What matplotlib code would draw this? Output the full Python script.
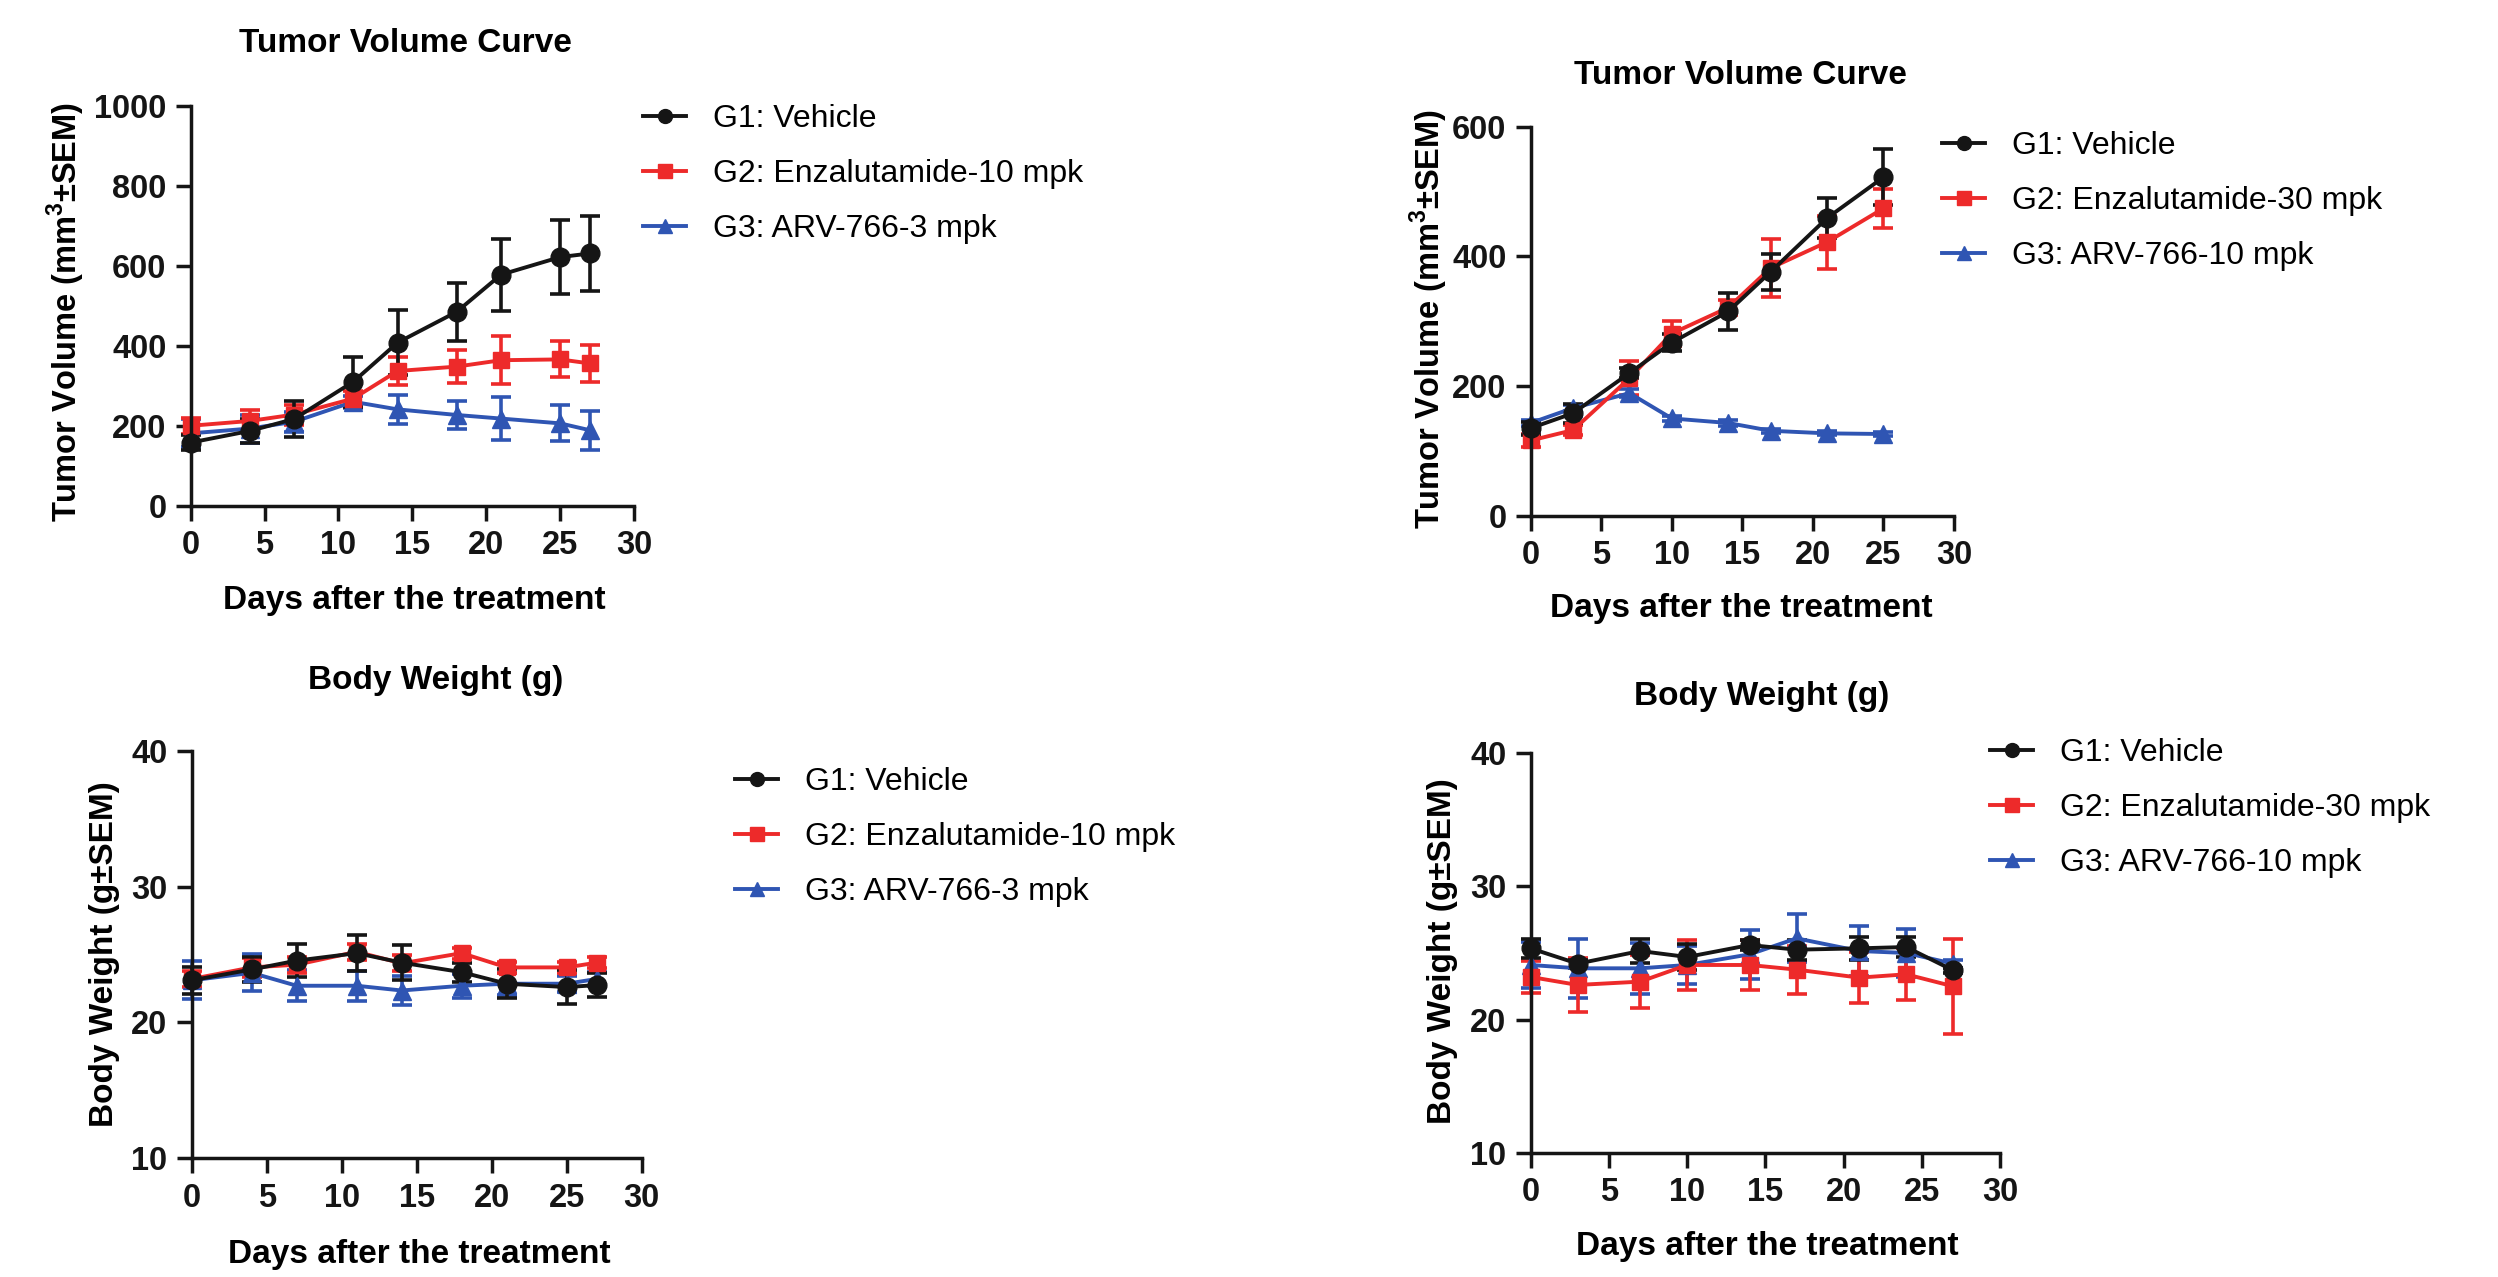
import matplotlib
matplotlib.use('Agg')
import matplotlib.pyplot as plt
from matplotlib.lines import Line2D

# figure size in pixels (dpi 100)
W, H = 2498, 1277

plt.rcParams['font.family'] = ['Liberation Sans', 'DejaVu Sans']
plt.rcParams['mathtext.fontset'] = 'custom'
plt.rcParams['mathtext.bf'] = 'Liberation Sans:bold'
plt.rcParams['mathtext.rm'] = 'Liberation Sans'

BLACK = '#151515'
RED = '#ED2A2A'
BLUE = '#2F55B3'

# ---- tumor volume, 10 mpk study (top left)
days_tv1 = [0, 4, 7, 11, 14, 18, 21, 25, 27]
tv1_g1 = [158, 187, 217, 310, 408, 485, 578, 622, 631]
tv1_g1_sem = [18, 30, 44, 62, 81, 72, 90, 93, 93]
tv1_g2 = [200, 212, 228, 268, 337, 348, 364, 366, 356]
tv1_g2_sem = [20, 28, 25, 20, 35, 42, 60, 45, 46]
tv1_g3 = [181, 193, 210, 260, 241, 227, 218, 206, 189]
tv1_g3_sem = [35, 35, 25, 15, 36, 35, 54, 45, 49]

# ---- tumor volume, 30 mpk study (top right)
days_tv2 = [0, 3, 7, 10, 14, 17, 21, 25]
tv2_g1 = [135, 158, 220, 267, 315, 376, 459, 522]
tv2_g1_sem = [10, 15, 8, 13, 28, 28, 31, 43]
tv2_g2 = [116, 132, 212, 281, 321, 382, 422, 474]
tv2_g2_sem = [10, 8, 26, 19, 12, 45, 41, 30]
tv2_g3 = [143, 166, 189, 150, 143, 131, 127, 126]
tv2_g3_sem = [5, 5, 6, 4, 4, 3, 3, 3]

# ---- body weight, 10 mpk study (bottom left)
days_bw1 = [0, 4, 7, 11, 14, 18, 21, 25, 27]
bw1_g1 = [23.1, 23.9, 24.55, 25.1, 24.4, 23.7, 22.85, 22.6, 22.75]
bw1_g1_sem = [1.0, 0.9, 1.2, 1.35, 1.3, 0.7, 1.05, 1.25, 0.9]
bw1_g2 = [23.2, 24.05, 24.25, 25.2, 24.35, 25.1, 24.05, 24.05, 24.4]
bw1_g2_sem = [0.6, 0.7, 0.6, 0.6, 0.6, 0.4, 0.4, 0.4, 0.4]
bw1_g3 = [23.1, 23.65, 22.7, 22.7, 22.35, 22.7, 22.85, 22.85, 23.2]
bw1_g3_sem = [1.4, 1.35, 1.15, 1.1, 1.1, 0.9, 0.8, 0.6, 0.5]

# ---- body weight, 30 mpk study (bottom right)
days_bw2 = [0, 3, 7, 10, 14, 17, 21, 24, 27]
bw2_g1 = [25.35, 24.2, 25.15, 24.7, 25.6, 25.25, 25.35, 25.45, 23.7]
bw2_g1_sem = [0.7, 0.3, 0.9, 1.0, 0.4, 0.75, 0.88, 0.78, 0.2]
bw2_g2 = [23.2, 22.6, 22.85, 24.1, 24.1, 23.75, 23.15, 23.4, 22.5]
bw2_g2_sem = [1.2, 2.0, 2.0, 1.9, 1.85, 1.8, 1.9, 1.95, 3.55]
bw2_g3 = [24.1, 23.85, 23.85, 24.1, 24.9, 26.1, 25.15, 25.0, 24.2]
bw2_g3_sem = [1.75, 2.2, 1.9, 1.4, 1.85, 1.8, 1.85, 1.8, 0.3]

labels_10 = ['G1: Vehicle', 'G2: Enzalutamide-10 mpk', 'G3: ARV-766-3 mpk']
labels_30 = ['G1: Vehicle', 'G2: Enzalutamide-30 mpk', 'G3: ARV-766-10 mpk']

TICK_FS = 23.5
LAB_FS = 24
LEG_FS = 23
TV_LABEL = r'Tumor Volume (mm$^{\mathbf{3}}$±SEM)'


def px_axes(fig, left, top, right, bottom):
    # axes rectangle given in pixel coords (origin top left)
    return fig.add_axes([left / W, 1 - bottom / H, (right - left) / W, (bottom - top) / H])


def ftext(fig, x, y, s, **kw):
    fig.text(x / W, 1 - y / H, s, ha='center', va='center', **kw)


def draw_panel(fig, ax, days, groups, sems, yticks):
    styles = [(BLUE, '^', 13), (RED, 's', 12), (BLACK, 'o', 13.5)]
    for (col, mk, ms), vals, err in zip(styles, groups[::-1], sems[::-1]):
        ax.errorbar(days, vals, yerr=err, color=col, marker=mk, markersize=ms,
                    lw=2.8, elinewidth=2.6, capsize=7.5, capthick=2.6, clip_on=False)
    ax.set_xlim(0, 30)
    ax.set_ylim(yticks[0], yticks[-1])
    ax.set_xticks(range(0, 31, 5))
    ax.set_yticks(yticks)
    for s in ['top', 'right']:
        ax.spines[s].set_visible(False)
    for s in ['left', 'bottom']:
        ax.spines[s].set_linewidth(2.5)
        ax.spines[s].set_color(BLACK)
    ax.tick_params(direction='out', length=10.5, width=2.5, colors=BLACK,
                   labelsize=TICK_FS, pad=7)
    for t in ax.get_xticklabels() + ax.get_yticklabels():
        t.set_fontweight('bold')


def add_legend(fig, ax, labels, x, y):
    handles = [Line2D([], [], color=BLACK, marker='o', markersize=10, lw=2.8),
               Line2D([], [], color=RED, marker='s', markersize=9.5, lw=2.8),
               Line2D([], [], color=BLUE, marker='^', markersize=10, lw=2.8)]
    ax.legend(handles, labels, loc='upper left', bbox_to_anchor=(x / W, 1 - y / H),
              bbox_transform=fig.transFigure, frameon=False, fontsize=LEG_FS,
              handlelength=1.35, handletextpad=0.85, labelspacing=0.78,
              borderpad=0, borderaxespad=0)


fig = plt.figure(figsize=(W / 100, H / 100), dpi=100)

# top left
ax1 = px_axes(fig, 190.7, 106, 634, 505.7)
draw_panel(fig, ax1, days_tv1, [tv1_g1, tv1_g2, tv1_g3],
           [tv1_g1_sem, tv1_g2_sem, tv1_g3_sem], [0, 200, 400, 600, 800, 1000])
add_legend(fig, ax1, labels_10, 643, 104)
ftext(fig, 405, 43, 'Tumor Volume Curve', fontsize=LAB_FS, fontweight='bold')
ftext(fig, 414, 600, 'Days after the treatment', fontsize=LAB_FS, fontweight='bold')
ftext(fig, 66, 312, TV_LABEL, fontsize=LAB_FS - 0.5, fontweight='bold', rotation=90)

# top right
ax2 = px_axes(fig, 1530.7, 126.7, 1954, 515.7)
draw_panel(fig, ax2, days_tv2, [tv2_g1, tv2_g2, tv2_g3],
           [tv2_g1_sem, tv2_g2_sem, tv2_g3_sem], [0, 200, 400, 600])
add_legend(fig, ax2, labels_30, 1942, 131)
ftext(fig, 1740, 75, 'Tumor Volume Curve', fontsize=LAB_FS, fontweight='bold')
ftext(fig, 1741, 608, 'Days after the treatment', fontsize=LAB_FS, fontweight='bold')
ftext(fig, 1429, 319, TV_LABEL, fontsize=LAB_FS - 0.5, fontweight='bold', rotation=90)

# bottom left
ax3 = px_axes(fig, 191.7, 750.7, 641.7, 1158.3)
draw_panel(fig, ax3, days_bw1, [bw1_g1, bw1_g2, bw1_g3],
           [bw1_g1_sem, bw1_g2_sem, bw1_g3_sem], [10, 20, 30, 40])
add_legend(fig, ax3, labels_10, 735, 767)
ftext(fig, 436, 680, 'Body Weight (g)', fontsize=LAB_FS, fontweight='bold')
ftext(fig, 419, 1255, 'Days after the treatment', fontsize=LAB_FS, fontweight='bold')
ftext(fig, 105, 954, 'Body Weight (g±SEM)', fontsize=LAB_FS, fontweight='bold',
      rotation=90)

# bottom right
ax4 = px_axes(fig, 1530.7, 753.3, 2000, 1152.7)
draw_panel(fig, ax4, days_bw2, [bw2_g1, bw2_g2, bw2_g3],
           [bw2_g1_sem, bw2_g2_sem, bw2_g3_sem], [10, 20, 30, 40])
add_legend(fig, ax4, labels_30, 1990, 738)
ftext(fig, 1762, 696, 'Body Weight (g)', fontsize=LAB_FS, fontweight='bold')
ftext(fig, 1767, 1246, 'Days after the treatment', fontsize=LAB_FS, fontweight='bold')
ftext(fig, 1443, 951, 'Body Weight (g±SEM)', fontsize=LAB_FS, fontweight='bold',
      rotation=90)

fig.savefig('out.png', dpi=100, facecolor='white')
